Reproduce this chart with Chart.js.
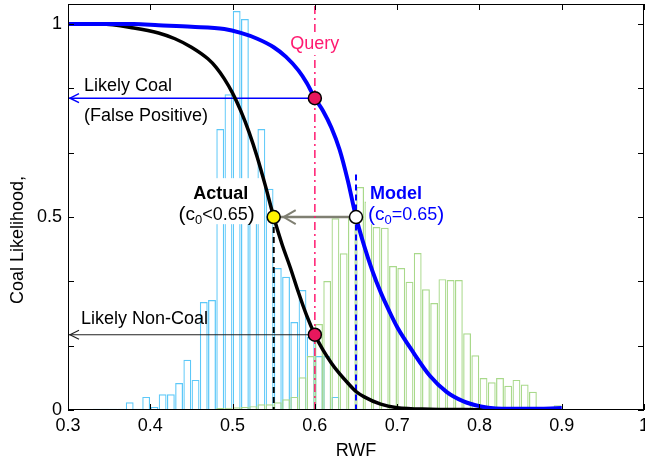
<!DOCTYPE html>
<html lang="en">
<head>
<meta charset="UTF-8">
<title>Coal likelihood vs RWF</title>
<script src="https://cdn.jsdelivr.net/npm/chart.js"></script>
<style>
    html, body { margin: 0; padding: 0; background: #fff; }
    #wrap { width: 645px; height: 464px; }
</style>
</head>
<body>
<div id="wrap"><canvas id="chart"></canvas></div>

<script>
    // axis ticks
    const xTickValues = [0.3, 0.4, 0.5, 0.6, 0.7, 0.8, 0.9, 1.0];
    const xTickLabels = ['0.3', '0.4', '0.5', '0.6', '0.7', '0.8', '0.9', '1'];
    const yTickValues = [0, 0.5, 1];
    const yTickLabels = ['0', '0.5', '1'];
    const yTickMarks = [0, 0.1667, 0.3333, 0.5, 0.6667, 0.8333, 1];

    // non-coal samples histogram (cyan)
    const nonCoalBins = [0.335, 0.345, 0.355, 0.365, 0.375, 0.385, 0.395, 0.405, 0.415, 0.425,
        0.435, 0.445, 0.455, 0.465, 0.475, 0.485, 0.495, 0.505, 0.515, 0.525,
        0.535, 0.545, 0.555, 0.565, 0.575, 0.585, 0.595, 0.605, 0.615, 0.625,
        0.635, 0.645, 0.655, 0.665, 0.675];
    const nonCoalCounts = [0.003, 0.003, 0.003, 0.003, 0.02, 0.003, 0.034, 0.008, 0.041, 0.041,
        0.07, 0.13, 0.078, 0.28, 0.285, 0.728, 0.818, 1.034, 1.013, 0.593,
        0.728, 0.573, 0.368, 0.345, 0.228, 0.311, 0.19, 0.14, 0.14, 0.034,
        0.003, 0.003, 0.003, 0.003, 0.003];

    // coal samples histogram (green)
    const coalBins = [0.485, 0.495, 0.505, 0.515, 0.525, 0.535, 0.545, 0.555, 0.565, 0.575,
        0.585, 0.595, 0.605, 0.615, 0.625, 0.635, 0.645, 0.655, 0.665, 0.675,
        0.685, 0.695, 0.705, 0.715, 0.725, 0.735, 0.745, 0.755, 0.765, 0.775,
        0.785, 0.795, 0.805, 0.815, 0.825, 0.835, 0.845, 0.855, 0.865, 0.875,
        0.885, 0.895];
    const coalCounts = [0.005, 0.006, 0.007, 0.008, 0.01, 0.015, 0.015, 0.02, 0.028, 0.034,
        0.085, 0.14, 0.223, 0.334, 0.497, 0.406, 0.5, 0.578, 0.54, 0.474,
        0.472, 0.373, 0.368, 0.332, 0.407, 0.313, 0.277, 0.339, 0.337, 0.337,
        0.199, 0.142, 0.083, 0.072, 0.083, 0.063, 0.078, 0.066, 0.047, 0.008,
        0.008, 0.012];

    // likelihood curves
    const actualX = [0.30, 0.34, 0.38, 0.41, 0.43, 0.45, 0.47, 0.48, 0.49, 0.50, 0.51, 0.52, 0.53, 0.54,
        0.55, 0.56, 0.57, 0.58, 0.59, 0.60, 0.61, 0.62, 0.63, 0.64, 0.65, 0.66, 0.68, 0.70, 0.74, 0.78, 0.82];
    const actualY = [1.0, 1.0, 0.99, 0.977, 0.962, 0.94, 0.91, 0.888, 0.858, 0.821, 0.775, 0.72, 0.655, 0.58,
        0.5, 0.43, 0.37, 0.305, 0.245, 0.195, 0.155, 0.122, 0.094, 0.07, 0.048, 0.034, 0.015, 0.006, 0.002, 0.001, 0];

    const modelX = [0.30, 0.38, 0.41, 0.45, 0.49, 0.51, 0.53, 0.55, 0.565, 0.58, 0.59, 0.60, 0.61, 0.62, 0.63,
        0.64, 0.65, 0.66, 0.67, 0.68, 0.69, 0.70, 0.72, 0.74, 0.76, 0.78, 0.80, 0.82, 0.86, 0.90];
    const modelY = [1.0, 1.0, 0.997, 0.993, 0.987, 0.977, 0.962, 0.94, 0.915, 0.88, 0.848, 0.808, 0.775, 0.732, 0.675,
        0.595, 0.5, 0.425, 0.36, 0.305, 0.258, 0.215, 0.148, 0.088, 0.047, 0.023, 0.01, 0.004, 0.003, 0.005];

    // query and thresholds
    const queryRWF = 0.6;
    const actualC0 = 0.55;
    const modelC0 = 0.65;
    const coalHit = 0.808;
    const nonCoalHit = 0.195;
    const halfLikelihood = 0.5;
    const modelDropTop = 0.61;
    const yTop = 1.052;

    const FONT = '"Liberation Sans", Arial, sans-serif';
    const PINK = '#FF1A70';
    const BLUE = '#0000FF';

    function pts(xs, ys) {
        return xs.map(function (v, i) { return { x: v, y: ys[i] }; });
    }

    // text with a subscript zero: (c0<0.65)
    function drawC0(ctx, rest, x, y, color, align) {
        const parts = [
            { t: '(', f: '21px ' + FONT, dy: 0 },
            { t: 'c', f: '19px ' + FONT, dy: 0 },
            { t: '0', f: '13px ' + FONT, dy: 5 },
            { t: rest, f: '18px ' + FONT, dy: 0 },
            { t: ')', f: '21px ' + FONT, dy: 0 }
        ];
        let total = 0;
        parts.forEach(function (p) { ctx.font = p.f; p.w = ctx.measureText(p.t).width; total += p.w; });
        let cx = align === 'center' ? x - total / 2 : x;
        ctx.fillStyle = color;
        ctx.textAlign = 'left';
        ctx.textBaseline = 'middle';
        parts.forEach(function (p) { ctx.font = p.f; ctx.fillText(p.t, cx, y + p.dy); cx += p.w; });
    }

    function chevron(ctx, tipX, tipY, len, half, color, width) {
        ctx.beginPath();
        ctx.moveTo(tipX + len, tipY - half);
        ctx.lineTo(tipX, tipY);
        ctx.lineTo(tipX + len, tipY + half);
        ctx.strokeStyle = color;
        ctx.lineWidth = width;
        ctx.stroke();
    }

    // white boxes behind the Actual / Model labels, drawn just after the histograms
    const labelBoxes = {
        id: 'labelBoxes',
        afterDatasetDraw(chart, args) {
            if (args.index !== chart.data.datasets.length - 2) return;
            const { ctx, scales: { x, y } } = chart;
            ctx.save();
            ctx.fillStyle = '#fff';
            const ay = y.getPixelForValue(0.58);
            const ax = x.getPixelForValue(actualC0);
            ctx.fillRect(ax - 106, ay - 8, 96, 46);
            const mx = x.getPixelForValue(modelC0);
            ctx.fillRect(mx + 10, ay - 8, 90, 46);
            ctx.restore();
        }
    };

    const annotations = {
        id: 'annotations',
        afterDatasetsDraw(chart) {
            const { ctx, chartArea: a, scales: { x, y } } = chart;
            ctx.save();

            // arrowheads
            chevron(ctx, a.left + 2, y.getPixelForValue(coalHit), 9, 4.5, BLUE, 1.5);
            chevron(ctx, a.left + 2, y.getPixelForValue(nonCoalHit), 9, 4.5, '#222', 1.2);
            chevron(ctx, x.getPixelForValue(actualC0) + 10, y.getPixelForValue(halfLikelihood), 12, 7, '#7F7F72', 2);

            ctx.textBaseline = 'middle';

            // Query label
            const qx = x.getPixelForValue(queryRWF);
            const qy = y.getPixelForValue(0.948);
            ctx.font = '18px ' + FONT;
            const qw = ctx.measureText('Query').width;
            ctx.fillStyle = '#fff';
            ctx.fillRect(qx - qw / 2 - 2, qy - 11, qw + 4, 22);
            ctx.fillStyle = PINK;
            ctx.textAlign = 'center';
            ctx.fillText('Query', qx, qy);

            // left side labels
            ctx.fillStyle = '#000';
            ctx.textAlign = 'left';
            ctx.fillText('Likely Coal', a.left + 16, y.getPixelForValue(0.839));
            ctx.fillText('(False Positive)', a.left + 16, y.getPixelForValue(0.762));
            ctx.fillText('Likely Non-Coal', a.left + 13, y.getPixelForValue(0.236));

            // Actual
            const ax = x.getPixelForValue(actualC0);
            ctx.font = 'bold 18px ' + FONT;
            ctx.textAlign = 'center';
            ctx.fillText('Actual', ax - 53, y.getPixelForValue(0.56));
            drawC0(ctx, '<0.65', ax - 57, y.getPixelForValue(0.505), '#000', 'center');

            // Model
            const mx = x.getPixelForValue(modelC0);
            ctx.font = 'bold 18px ' + FONT;
            ctx.fillStyle = BLUE;
            ctx.textAlign = 'left';
            ctx.fillText('Model', mx + 14, y.getPixelForValue(0.56));
            drawC0(ctx, '=0.65', mx + 12, y.getPixelForValue(0.505), BLUE, 'left');

            // y title
            ctx.save();
            ctx.translate(18, 240);
            ctx.rotate(-Math.PI / 2);
            ctx.font = '18px ' + FONT;
            ctx.fillStyle = '#000';
            ctx.textAlign = 'center';
            ctx.fillText('Coal Likelihood,', 0, 0);
            ctx.restore();

            ctx.restore();
        }
    };

    // box frame with inward ticks on all four sides
    const frameTicks = {
        id: 'frameTicks',
        afterDraw(chart) {
            const { ctx, chartArea: a, scales: { x, y } } = chart;
            ctx.save();
            ctx.strokeStyle = '#000';
            ctx.lineWidth = 1;
            ctx.strokeRect(a.left + 0.5, a.top + 0.5, a.right - a.left - 1, a.bottom - a.top - 1);
            ctx.beginPath();
            xTickValues.forEach(function (v) {
                const px = Math.round(x.getPixelForValue(v)) + 0.5;
                ctx.moveTo(px, a.bottom); ctx.lineTo(px, a.bottom - 6);
                ctx.moveTo(px, a.top); ctx.lineTo(px, a.top + 6);
            });
            yTickMarks.forEach(function (v) {
                const py = Math.round(y.getPixelForValue(v)) + 0.5;
                ctx.moveTo(a.left, py); ctx.lineTo(a.left + 6, py);
                ctx.moveTo(a.right, py); ctx.lineTo(a.right - 6, py);
            });
            ctx.stroke();
            ctx.restore();
        }
    };

    function dot(data, fill) {
        return {
            type: 'line', data: data, showLine: false, order: 0,
            pointRadius: 6.5, pointBackgroundColor: fill, pointBorderColor: '#000', pointBorderWidth: 1.5
        };
    }

    function segment(data, color, width, dash) {
        return {
            type: 'line', data: data, order: 3, pointRadius: 0,
            borderColor: color, borderWidth: width, borderDash: dash || []
        };
    }

    new Chart(document.getElementById('chart'), {
        type: 'scatter',
        data: {
            datasets: [
                dot([{ x: queryRWF, y: coalHit }, { x: queryRWF, y: nonCoalHit }], '#E8175D'),
                dot([{ x: actualC0, y: halfLikelihood }], '#FFF200'),
                dot([{ x: modelC0, y: halfLikelihood }], '#FFFFFF'),
                {
                    type: 'line', label: 'Model', data: pts(modelX, modelY), order: 1,
                    borderColor: BLUE, borderWidth: 4, pointRadius: 0, cubicInterpolationMode: 'monotone'
                },
                {
                    type: 'line', label: 'Actual', data: pts(actualX, actualY), order: 1,
                    borderColor: '#000', borderWidth: 3.5, pointRadius: 0, cubicInterpolationMode: 'monotone'
                },
                segment([{ x: queryRWF, y: 0 }, { x: queryRWF, y: yTop }], PINK, 1.5, [8, 4, 2, 4]),
                segment([{ x: actualC0, y: halfLikelihood }, { x: actualC0, y: 0 }], '#000', 2, [6, 4]),
                segment([{ x: modelC0, y: modelDropTop }, { x: modelC0, y: 0 }], BLUE, 2, [6, 4]),
                segment([{ x: queryRWF, y: coalHit }, { x: 0.3, y: coalHit }], BLUE, 1.5),
                segment([{ x: queryRWF, y: nonCoalHit }, { x: 0.3, y: nonCoalHit }], '#222', 1.2),
                segment([{ x: modelC0, y: halfLikelihood }, { x: actualC0, y: halfLikelihood }], '#7F7F72', 2.5),
                {
                    type: 'bar', label: 'Coal', data: pts(coalBins, coalCounts), order: 8,
                    backgroundColor: 'rgba(255,255,255,0)', borderColor: '#A9D98B', borderWidth: 1.2,
                    barPercentage: 0.95, categoryPercentage: 1, grouped: false
                },
                {
                    type: 'bar', label: 'Non-coal', data: pts(nonCoalBins, nonCoalCounts), order: 9,
                    backgroundColor: 'rgba(255,255,255,0)', borderColor: '#5CC8F8', borderWidth: 1.2,
                    barPercentage: 0.95, categoryPercentage: 1, grouped: false
                }
            ]
        },
        options: {
            responsive: true,
            maintainAspectRatio: false,
            animation: false,
            events: [],
            layout: { autoPadding: false, padding: { top: 4, right: 1, left: 0, bottom: 0 } },
            plugins: {
                legend: { display: false },
                tooltip: { enabled: false }
            },
            scales: {
                x: {
                    type: 'linear', min: 0.3, max: 1, offset: false,
                    grid: { display: false, drawTicks: false },
                    border: { display: false },
                    afterBuildTicks: function (scale) {
                        scale.ticks = xTickValues.map(function (v) { return { value: v }; });
                    },
                    afterFit: function (scale) {
                        scale.height = 54;
                        scale.paddingLeft = 0;
                        scale.paddingRight = 0;
                    },
                    ticks: {
                        padding: 5, color: '#000', maxRotation: 0, autoSkip: false,
                        font: { family: FONT, size: 18 },
                        callback: function (v, i) { return xTickLabels[i]; }
                    },
                    title: {
                        display: true, text: 'RWF', color: '#000',
                        font: { family: FONT, size: 18 },
                        padding: { top: 0, bottom: 2 }
                    }
                },
                y: {
                    type: 'linear', min: 0, max: yTop,
                    grid: { display: false, drawTicks: false },
                    border: { display: false },
                    afterBuildTicks: function (scale) {
                        scale.ticks = yTickValues.map(function (v) { return { value: v }; });
                    },
                    afterFit: function (scale) {
                        scale.width = 68;
                        scale.paddingTop = 0;
                        scale.paddingBottom = 0;
                    },
                    ticks: {
                        padding: 6, color: '#000', autoSkip: false,
                        font: { family: FONT, size: 18 },
                        callback: function (v, i) { return yTickLabels[i]; }
                    }
                }
            }
        },
        plugins: [labelBoxes, annotations, frameTicks]
    });
</script>
</body>
</html>
